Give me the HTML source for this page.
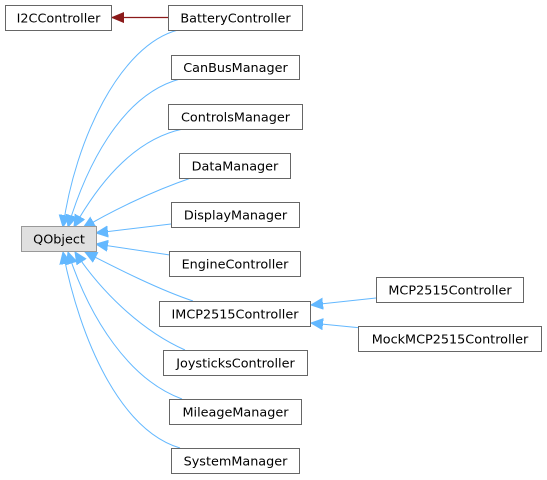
<!DOCTYPE html>
<html><head><style>
body{margin:0;background:#fff;width:547px;height:480px;overflow:hidden}
svg{position:absolute;left:0;top:0}
text{font-family:"DejaVu Sans","Liberation Sans",sans-serif;font-size:12.8px;fill:#000}
</style></head><body>
<svg width="547" height="480" viewBox="0 0 547 480">
<defs>
<marker id="b" markerWidth="14" markerHeight="12" refX="12" refY="6" orient="auto" markerUnits="userSpaceOnUse"><path d="M0,0.5 L12,6 L0,11.5 Z" fill="#63b8ff" stroke="#63b8ff"/></marker>
<marker id="r" markerWidth="14" markerHeight="12" refX="12" refY="6" orient="auto" markerUnits="userSpaceOnUse"><path d="M0,1 L12,6 L0,11 Z" fill="#8b1a1a" stroke="#8b1a1a"/></marker>
</defs>
<g fill="none" stroke="#63b8ff" stroke-width="1">
<path d="M178,30 C120,45 75,140 63,227" marker-end="url(#b)"/>
<path d="M180,79 C120,95 85,170 68,227" marker-end="url(#b)"/>
<path d="M183,129 C130,140 95,190 74,227" marker-end="url(#b)"/>
<path d="M191,178 C150,192 110,212 83,228" marker-end="url(#b)"/>
<path d="M171,224 L96,233" marker-end="url(#b)"/>
<path d="M170,255 L96,244" marker-end="url(#b)"/>
<path d="M193,301 C160,290 120,270 85,252" marker-end="url(#b)"/>
<path d="M185,350 C140,330 100,290 75,252" marker-end="url(#b)"/>
<path d="M182,399 C130,380 90,320 68,252" marker-end="url(#b)"/>
<path d="M180,448 C120,430 80,340 63,252" marker-end="url(#b)"/>
<path d="M376,298 L311,305" marker-end="url(#b)"/>
<path d="M372,329 L311,323" marker-end="url(#b)"/>
</g>
<path d="M168,17.5 L112,17.5" stroke="#8b1a1a" stroke-width="1.3" fill="none" marker-end="url(#r)"/>
<g stroke="#666" stroke-width="1" fill="#fff">
<rect x="5.5" y="5.5" width="106" height="25"/>
<rect x="168.5" y="5.5" width="134" height="25"/>
<rect x="171.5" y="55.5" width="128" height="24"/>
<rect x="168.5" y="104.5" width="134" height="25"/>
<rect x="179.5" y="153.5" width="111" height="25"/>
<rect x="171.5" y="202.5" width="128" height="25"/>
<rect x="21.5" y="226.5" width="75" height="25" fill="#e0e0e0" stroke="#999"/>
<rect x="169.5" y="251.5" width="131" height="25"/>
<rect x="159.5" y="301.5" width="151" height="25"/>
<rect x="376.5" y="277.5" width="147" height="25"/>
<rect x="358.5" y="326.5" width="183" height="25"/>
<rect x="163.5" y="350.5" width="144" height="25"/>
<rect x="169.5" y="399.5" width="132" height="25"/>
<rect x="171.5" y="448.5" width="128" height="25"/>
</g>
<g text-anchor="middle">
<text x="58.5" y="22.5">I2CController</text>
<text x="235.5" y="22.5">BatteryController</text>
<text x="235.5" y="72">CanBusManager</text>
<text x="235.5" y="121.5">ControlsManager</text>
<text x="235" y="170.5">DataManager</text>
<text x="235.5" y="219.5">DisplayManager</text>
<text x="59" y="243.5">QObject</text>
<text x="235" y="268.5">EngineController</text>
<text x="235" y="318.5">IMCP2515Controller</text>
<text x="450" y="294.5">MCP2515Controller</text>
<text x="450" y="343.5">MockMCP2515Controller</text>
<text x="235.5" y="367.5">JoysticksController</text>
<text x="235.5" y="416.5">MileageManager</text>
<text x="235.5" y="465.5">SystemManager</text>
</g>
</svg>
</body></html>
